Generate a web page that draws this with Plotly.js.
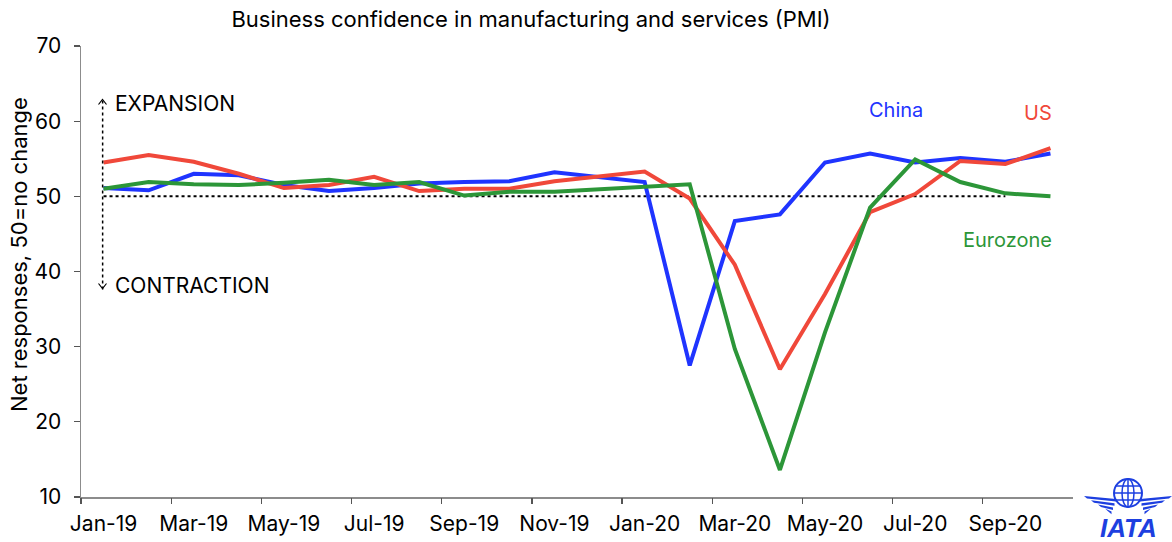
<!DOCTYPE html>
<html>
<head>
<meta charset="utf-8">
<script src="https://cdn.plot.ly/plotly-3.0.1.min.js"></script>
<style>html,body{margin:0;padding:0;background:#fff;}#chart{width:1172px;height:542px;}</style>
</head>
<body>
<div id="chart"></div>
<script>
// ---- data ----
const months = ["Jan-19","Feb-19","Mar-19","Apr-19","May-19","Jun-19","Jul-19","Aug-19","Sep-19","Oct-19","Nov-19","Dec-19",
                "Jan-20","Feb-20","Mar-20","Apr-20","May-20","Jun-20","Jul-20","Aug-20","Sep-20","Oct-20"];
const china    = [51.1, 50.8, 53.0, 52.8, 51.5, 50.7, 51.1, 51.7, 51.9, 52.0, 53.2, 52.6, 51.9, 27.5, 46.7, 47.6, 54.5, 55.7, 54.5, 55.1, 54.6, 55.7];
const us       = [54.5, 55.5, 54.6, 53.0, 51.1, 51.5, 52.6, 50.7, 51.0, 51.0, 52.0, 52.7, 53.3, 49.7, 40.9, 27.0, 37.0, 47.9, 50.3, 54.7, 54.3, 56.4];
const eurozone = [51.0, 51.9, 51.6, 51.5, 51.8, 52.2, 51.5, 51.9, 50.1, 50.6, 50.6, 50.9, 51.3, 51.6, 29.7, 13.6, 31.9, 48.5, 54.9, 51.9, 50.4, 50.0];
const noChange = [50, 50, 50, 50, 50, 50, 50, 50, 50, 50, 50, 50, 50, 50, 50, 50, 50, 50, 50, 50, 50];
const yTicks = [10, 20, 30, 40, 50, 60, 70];

const BLUE = "#1f34ff", RED = "#f0483a", GREEN = "#2c9638";
const FONT = "Inter, 'Liberation Sans', Arial, sans-serif";

const xi = months.map((m, i) => i);
const labelIdx = xi.filter(i => i % 2 === 0);
const boundaryTicks = labelIdx.map(i => i - 0.5);

const traces = [
  {x: xi.slice(0, noChange.length), y: noChange, mode: "lines", line: {color: "#000", width: 2, dash: "dot"}, hoverinfo: "skip"},
  {x: xi, y: china, mode: "lines", name: "China", line: {color: BLUE, width: 4}},
  {x: xi, y: us, mode: "lines", name: "US", line: {color: RED, width: 4}},
  {x: xi, y: eurozone, mode: "lines", name: "Eurozone", line: {color: GREEN, width: 4}},
  // invisible trace to activate tick axis
  {x: [0], y: [50], xaxis: "x2", mode: "markers", marker: {opacity: 0}, hoverinfo: "skip"}
];

// pixel -> paper helpers for logo decoration
const L = 81, T = 46, W = 992, H = 451;
const px = v => (v - L) / W;
const py = v => (T + H - v) / H;
function poly(pts) {
  return "M " + pts.map(p => px(p[0]).toFixed(5) + " " + py(p[1]).toFixed(5)).join(" L ") + " Z";
}
const LOGO = "#1d3fe0";
const shapes = [];
// vertical dotted arrow
shapes.push({type: "line", xref: "x", yref: "y", x0: -0.02, x1: -0.02, y0: 37.6, y1: 62.7, line: {color: "#000", width: 1.5, dash: "dot"}});
shapes.push({type: "path", xref: "paper", yref: "paper", path: "M " + px(98.5) + " " + py(104.5) + " L " + px(102.5) + " " + py(99.5) + " L " + px(106.5) + " " + py(104.5), line: {color: "#000", width: 1.2}});
shapes.push({type: "path", xref: "paper", yref: "paper", path: "M " + px(98.5) + " " + py(283.5) + " L " + px(102.5) + " " + py(288.5) + " L " + px(106.5) + " " + py(283.5), line: {color: "#000", width: 1.2}});
// IATA globe
const gcx = 1128, gcy = 493, gr = 14;
shapes.push({type: "circle", xref: "paper", yref: "paper", x0: px(gcx - gr), x1: px(gcx + gr), y0: py(gcy + gr), y1: py(gcy - gr), line: {color: LOGO, width: 2}, fillcolor: "rgba(0,0,0,0)"});
shapes.push({type: "circle", xref: "paper", yref: "paper", x0: px(gcx - 6), x1: px(gcx + 6), y0: py(gcy + gr), y1: py(gcy - gr), line: {color: LOGO, width: 1.5}, fillcolor: "rgba(0,0,0,0)"});
shapes.push({type: "line", xref: "paper", yref: "paper", x0: px(gcx), x1: px(gcx), y0: py(gcy + gr), y1: py(gcy - gr), line: {color: LOGO, width: 1.5}});
[-7, 0, 7].forEach(d => {
  const hw = Math.sqrt(gr * gr - d * d);
  shapes.push({type: "line", xref: "paper", yref: "paper", x0: px(gcx - hw), x1: px(gcx + hw), y0: py(gcy + d), y1: py(gcy + d), line: {color: LOGO, width: 1.5}});
});
// wings
for (let k = 0; k < 4; k++) {
  const y0 = 499 + k * 4.2, th = 2.6, outer = 1084 + k * 7, inner = 1116 - k * 1.5;
  shapes.push({type: "path", xref: "paper", yref: "paper", line: {width: 0}, fillcolor: LOGO,
    path: poly([[outer, y0 - 3], [inner, y0], [inner, y0 + th], [outer + 3, y0 - 3 + th]])});
  const o2 = 2 * gcx - outer, i2 = 2 * gcx - inner;
  shapes.push({type: "path", xref: "paper", yref: "paper", line: {width: 0}, fillcolor: LOGO,
    path: poly([[o2, y0 - 3], [i2, y0], [i2, y0 + th], [o2 - 3, y0 - 3 + th]])});
}

const annFont = {family: FONT, size: 21};
const lblFont = {family: FONT, size: 20};
const annotations = [
  {x: 0.21, y: 62.3, xref: "x", yref: "y", text: "EXPANSION", showarrow: false, xanchor: "left", yanchor: "middle", font: Object.assign({color: "#000"}, annFont)},
  {x: 0.21, y: 38.2, xref: "x", yref: "y", text: "CONTRACTION", showarrow: false, xanchor: "left", yanchor: "middle", font: Object.assign({color: "#000"}, annFont)},
  {x: 17.57, y: 61.5, xref: "x", yref: "y", text: "China", showarrow: false, xanchor: "center", yanchor: "middle", font: Object.assign({color: BLUE}, lblFont)},
  {x: 20.72, y: 61.1, xref: "x", yref: "y", text: "US", showarrow: false, xanchor: "center", yanchor: "middle", font: Object.assign({color: RED}, lblFont)},
  {x: 20.05, y: 44.2, xref: "x", yref: "y", text: "Eurozone", showarrow: false, xanchor: "center", yanchor: "middle", font: Object.assign({color: GREEN}, lblFont)},
  {x: px(19), y: py(255), xref: "paper", yref: "paper", text: "Net responses, 50=no change", textangle: -90, showarrow: false,
   xanchor: "center", yanchor: "middle", font: {family: FONT, size: 22, color: "#000"}},
  {x: px(1128), y: py(528), xref: "paper", yref: "paper", text: "<b><i>IATA</i></b>", showarrow: false, xanchor: "center", yanchor: "middle",
   font: {family: "'Liberation Sans', Arial, sans-serif", size: 26, color: LOGO}}
];

const layout = {
  width: 1172, height: 542,
  margin: {l: 81, r: 99, t: 46, b: 45, pad: 0},
  paper_bgcolor: "#fff", plot_bgcolor: "#fff",
  showlegend: false,
  font: {family: FONT, size: 20, color: "#000"},
  title: {text: "Business confidence in manufacturing and services (PMI)", x: 531 / 1172, xref: "container", xanchor: "center",
          y: 1 - 19 / 542, yref: "container", yanchor: "middle", font: {family: FONT, size: 22, color: "#000"}},
  xaxis: {range: [-0.5, 21.5], tickmode: "array", tickvals: labelIdx, ticktext: labelIdx.map(i => months[i]),
          ticks: "", showgrid: false, zeroline: false, showline: true, linecolor: "#8c8c8c", linewidth: 1.5,
          ticklabelstandoff: 7, tickfont: {family: FONT, size: 21}, fixedrange: true},
  xaxis2: {range: [-0.5, 21.5], overlaying: "x", anchor: "y", side: "bottom", tickmode: "array", tickvals: boundaryTicks,
           ticks: "outside", ticklen: 6, tickwidth: 1.2, tickcolor: "#555", showticklabels: false, showgrid: false, zeroline: false, showline: false},
  yaxis: {range: [10, 70], tickmode: "array", tickvals: yTicks, ticks: "outside", ticklen: 6, tickwidth: 1.2, tickcolor: "#555",
          showgrid: false, zeroline: false, showline: true, linecolor: "#8c8c8c", linewidth: 1.5,
          ticklabelstandoff: 8, tickfont: {family: FONT, size: 21}},
  shapes: shapes,
  annotations: annotations
};

Plotly.newPlot("chart", traces, layout, {displayModeBar: false, staticPlot: true});
</script>
</body>
</html>
